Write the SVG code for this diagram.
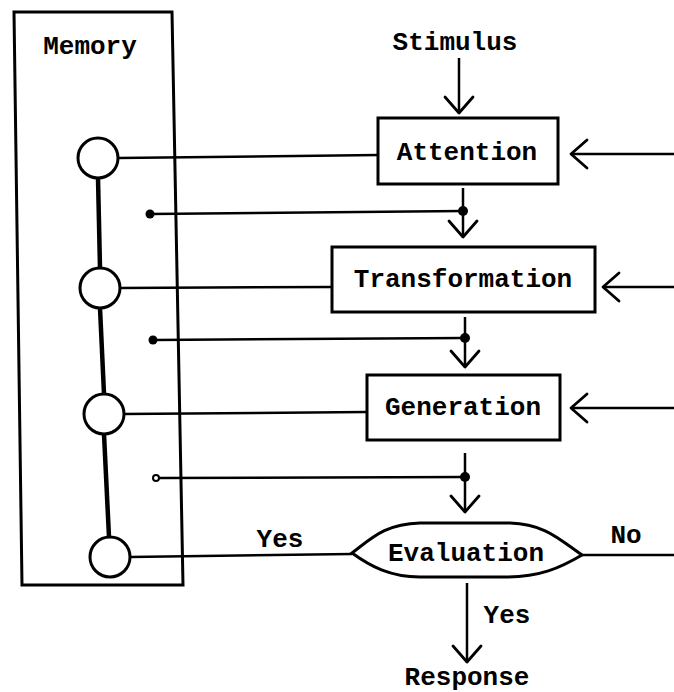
<svg xmlns="http://www.w3.org/2000/svg" width="674" height="692" viewBox="0 0 674 692">
<style>
.t{font-family:"Liberation Mono","Courier New",monospace;font-weight:bold;font-size:26px;fill:#000;text-anchor:middle}
.box{fill:#fff;stroke:#000;stroke-width:3}
.ln{fill:none;stroke:#000;stroke-width:2.5}
.chain{fill:none;stroke:#000;stroke-width:4.5}
.mc{fill:#fff;stroke:#000;stroke-width:3}
.dot{fill:#000}
</style>
<defs>
<marker id="v" markerUnits="userSpaceOnUse" markerWidth="40" markerHeight="40" viewBox="-20 -20 40 40" refX="0" refY="0" orient="auto">
<path d="M-16,-14 L0,0 L-16,14" fill="none" stroke="#000" stroke-width="2.8" stroke-linecap="round" stroke-linejoin="round"/>
</marker>
</defs>
<rect width="674" height="692" fill="#fff"/>
<g id="memory">
<polygon class="box" points="14,12 172,12 183,585 22,585"/>
<text class="t" x="90" y="54">Memory</text>
</g>
<g id="connectors">
<line class="chain" x1="98" y1="178" x2="100" y2="268"/>
<line class="chain" x1="100" y1="308" x2="104" y2="394"/>
<line class="chain" x1="104" y1="434" x2="109" y2="537"/>
<line class="ln" x1="118" y1="158" x2="378" y2="155"/>
<line class="ln" x1="118" y1="288" x2="332" y2="287"/>
<line class="ln" x1="123" y1="414" x2="367" y2="412"/>
<line class="ln" x1="130" y1="557" x2="352" y2="554"/>
<line class="ln" x1="582" y1="555" x2="674" y2="555"/>
<line class="ln" x1="459" y1="58" x2="459" y2="113" marker-end="url(#v)"/>
<line class="ln" x1="674" y1="154" x2="571" y2="154" marker-end="url(#v)"/>
<line class="ln" x1="674" y1="287" x2="603" y2="287" marker-end="url(#v)"/>
<line class="ln" x1="674" y1="408" x2="571" y2="408" marker-end="url(#v)"/>
<line class="ln" x1="150" y1="214" x2="463" y2="211"/>
<line class="ln" x1="463" y1="188" x2="463" y2="237" marker-end="url(#v)"/>
<circle class="dot" cx="150" cy="214" r="4.5"/>
<circle class="dot" cx="463" cy="211" r="5"/>
<line class="ln" x1="153" y1="340" x2="465" y2="338"/>
<line class="ln" x1="465" y1="317" x2="465" y2="367" marker-end="url(#v)"/>
<circle class="dot" cx="153" cy="340" r="4.5"/>
<circle class="dot" cx="465" cy="338" r="5"/>
<line class="ln" x1="158" y1="478" x2="465" y2="477"/>
<line class="ln" x1="465" y1="453" x2="465" y2="512" marker-end="url(#v)"/>
<circle cx="156" cy="478" r="3" fill="#fff" stroke="#000" stroke-width="2"/>
<circle class="dot" cx="465" cy="477" r="5"/>
<line class="ln" x1="467" y1="583" x2="467" y2="662" marker-end="url(#v)"/>
<text class="t" x="280" y="547">Yes</text>
<text class="t" x="626" y="543">No</text>
<text class="t" x="507" y="623">Yes</text>
</g>
<g id="m1"><circle class="mc" cx="98" cy="158" r="20"/></g>
<g id="m2"><circle class="mc" cx="100" cy="288" r="20"/></g>
<g id="m3"><circle class="mc" cx="104" cy="414" r="20"/></g>
<g id="m4"><circle class="mc" cx="110" cy="557" r="20"/></g>
<g id="stimulus"><text class="t" x="455" y="50">Stimulus</text></g>
<g id="attention">
<rect class="box" x="378" y="118" width="180" height="66"/>
<text class="t" x="467" y="160">Attention</text>
</g>
<g id="transformation">
<rect class="box" x="332" y="247" width="263" height="65"/>
<text class="t" x="463" y="287">Transformation</text>
</g>
<g id="generation">
<rect class="box" x="367" y="375" width="193" height="65"/>
<text class="t" x="463" y="415">Generation</text>
</g>
<g id="evaluation">
<path class="box" d="M352,553 C372,538 385,524 420,523 L510,523 C545,524 560,540 582,555 C560,568 540,577 505,577 L420,577 C390,577 370,566 352,553 Z"/>
<text class="t" x="466" y="561">Evaluation</text>
</g>
<g id="response"><text class="t" x="467" y="685">Response</text></g>
</svg>
